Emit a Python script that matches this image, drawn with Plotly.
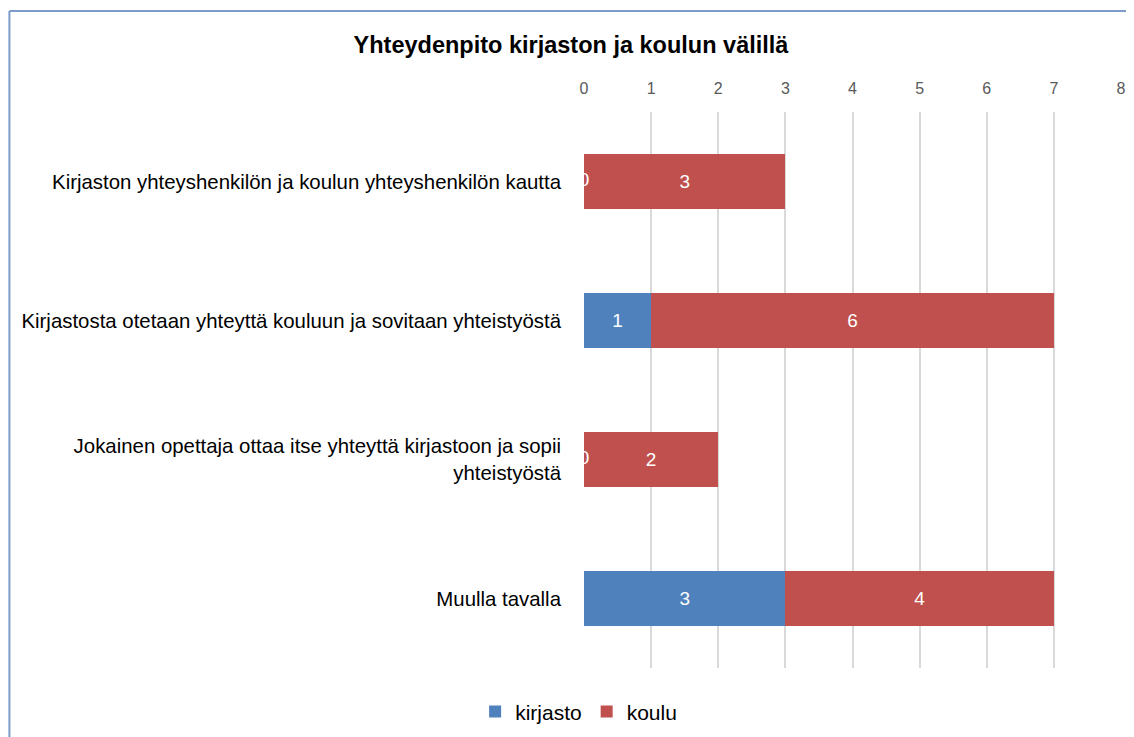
import plotly.graph_objects as go

categories = [
    "Kirjaston yhteyshenkilön ja koulun yhteyshenkilön kautta",
    "Kirjastosta otetaan yhteyttä kouluun ja sovitaan yhteistyöstä",
    "Jokainen opettaja ottaa itse yhteyttä kirjastoon ja sopii<br>yhteistyöstä",
    "Muulla tavalla",
]
kirjasto = [0, 1, 0, 3]
koulu = [3, 6, 2, 4]

BLUE = "#4F81BD"
RED = "#C0504D"
FONT = "Liberation Sans, Arial, sans-serif"

fig = go.Figure()
fig.add_trace(go.Bar(
    y=categories, x=kirjasto, name="kirjasto", orientation="h",
    marker=dict(color=BLUE, line=dict(width=0)),
    text=[str(v) if v else "" for v in kirjasto], textposition="inside",
    insidetextanchor="middle", textfont=dict(color="white", size=19, family=FONT),
))
fig.add_trace(go.Bar(
    y=categories, x=koulu, name="koulu", orientation="h",
    marker=dict(color=RED, line=dict(width=0)),
    text=[str(v) for v in koulu], textposition="inside",
    insidetextanchor="middle", textfont=dict(color="white", size=19, family=FONT),
))
# zero labels drawn at the axis origin, half hidden like the original
zero_cats = [c for c, v in zip(categories, kirjasto) if v == 0]
fig.add_trace(go.Scatter(
    y=zero_cats, x=[0] * len(zero_cats), mode="text",
    text=["0"] * len(zero_cats), textfont=dict(color="white", size=19, family=FONT),
    showlegend=False, hoverinfo="skip", cliponaxis=True,
))

# border of the chart area (left and top edges)
fig.add_shape(type="line", xref="paper", yref="paper",
              x0=-1.07, x1=1.2, y0=1.1817, y1=1.1817,
              line=dict(color="#7A9CCB", width=2))
fig.add_shape(type="line", xref="paper", yref="paper",
              x0=-1.07, x1=-1.07, y0=1.1817, y1=-0.2,
              line=dict(color="#7A9CCB", width=2))

fig.update_layout(
    width=1126, height=729,
    margin=dict(l=576, r=13, t=104, b=69, autoexpand=False),
    paper_bgcolor="white", plot_bgcolor="white",
    barmode="stack", bargap=0.6,
    font=dict(family=FONT, color="#000000"),
    title=dict(text="<b>Yhteydenpito kirjaston ja koulun välillä</b>",
               x=0.5, xanchor="center", y=1 - 37 / 729, yanchor="middle",
               font=dict(size=23.5, family=FONT, color="#000000")),
    xaxis=dict(range=[0, 8], dtick=1, side="top", showgrid=True,
               gridcolor="#D9D9D9", gridwidth=2, zeroline=False,
               showline=False, tickfont=dict(size=16, color="#595959", family=FONT),
               ticks="", ticklabelstandoff=14),
    yaxis=dict(autorange="reversed", showgrid=False, showline=False,
               ticks="", ticklabelstandoff=22,
               tickfont=dict(size=20.4, color="#000000", family=FONT)),
    legend=dict(orientation="h", x=-0.01, xanchor="center", y=-0.079,
                yanchor="middle", font=dict(size=21, family=FONT),
                itemwidth=30, traceorder="normal"),
    showlegend=True,
)

fig.write_html("out.html")
